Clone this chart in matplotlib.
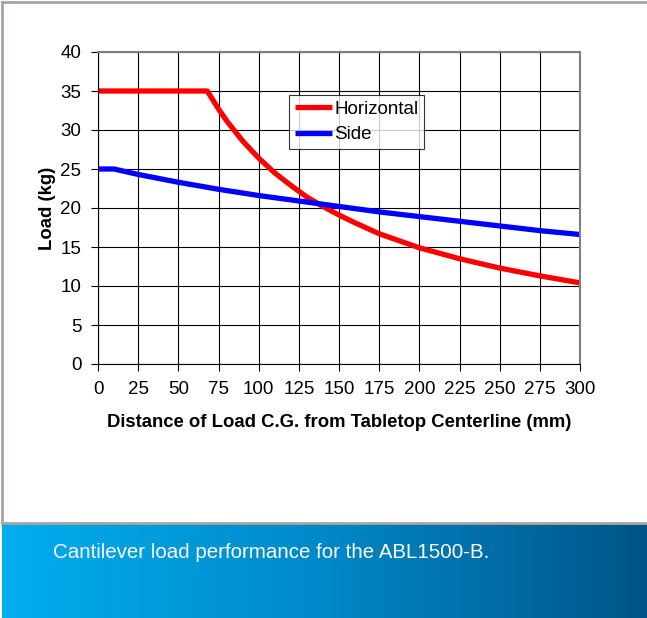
import numpy as np
import matplotlib.pyplot as plt
from matplotlib.lines import Line2D
from matplotlib.colors import LinearSegmentedColormap

plt.rcParams['font.family'] = ['Liberation Sans', 'DejaVu Sans']

# data
dist_h = [0, 68, 75, 80, 90, 100, 110, 120, 130, 140, 150, 160, 175, 200, 225, 250, 275, 300]
load_h = [35, 35, 32.7, 31.2, 28.6, 26.4, 24.5, 22.9, 21.4, 20.2, 19.1, 18.1, 16.7, 14.9, 13.5, 12.3, 11.3, 10.4]

dist_s = [0, 10, 25, 50, 75, 100, 125, 150, 175, 200, 225, 250, 275, 300]
load_s = [25, 25, 24.3, 23.3, 22.4, 21.6, 20.9, 20.2, 19.5, 18.9, 18.3, 17.7, 17.1, 16.6]

x_ticks = list(range(0, 301, 25))
y_ticks = list(range(0, 41, 5))
caption = "Cantilever load performance for the ABL1500-B."

fig = plt.figure(figsize=(6.47, 6.18), dpi=100)

# plot area
ax = fig.add_axes([98/647, 1 - 364/618, 482/647, 312/618])
ax.plot(dist_h, load_h, color='#ff0000', lw=3.8, label='Horizontal', solid_capstyle='butt')
ax.plot(dist_s, load_s, color='#0000ff', lw=3.8, label='Side', solid_capstyle='butt')
ax.set_xlim(0, 300)
ax.set_ylim(0, 40)
ax.set_xticks(x_ticks)
ax.set_yticks(y_ticks)
ax.grid(True, color='black', lw=0.8)
ax.set_axisbelow(True)
ax.tick_params(labelsize=13.5, length=5, color='black', pad=7)
for s in ['top', 'right']:
    ax.spines[s].set_color('#808080')
    ax.spines[s].set_linewidth(1.5)
ax.set_xlabel('Distance of Load C.G. from Tabletop Centerline (mm)', fontsize=13.3, fontweight='bold', labelpad=12)
ax.set_ylabel('Load (kg)', fontsize=13.3, fontweight='bold', labelpad=3)

leg = ax.legend(loc='upper left', bbox_to_anchor=((289 - 98)/482, (364 - 95)/312),
                fontsize=13.5, frameon=True, fancybox=False, edgecolor='black',
                handlelength=2.0, handletextpad=0.1, borderpad=0.3, labelspacing=0.45,
                borderaxespad=0)
leg.get_frame().set_linewidth(0.8)

# gray frame around the white part
gray = '#aaa59f'
fig.add_artist(Line2D([2/647, 1], [1 - 2/618, 1 - 2/618], color=gray, lw=2))
fig.add_artist(Line2D([2/647, 2/647], [1 - 2/618, 95/618], color=gray, lw=2))
fig.add_artist(Line2D([2/647, 1], [95/618, 95/618], color=gray, lw=2))

# caption banner with gradient
bax = fig.add_axes([2/647, 0, 645/647, 94/618])
grad = np.linspace(0, 1, 256).reshape(1, -1)
cmap = LinearSegmentedColormap.from_list('banner', ['#00aeef', '#0088c8', '#005488'])
bax.imshow(grad, aspect='auto', cmap=cmap, extent=[0, 1, 0, 1])
bax.set_axis_off()
fig.text(53/647, 1 - 553/618, caption, color='white', fontsize=14.8, va='center', ha='left')

fig.savefig('out.png', dpi=100)
